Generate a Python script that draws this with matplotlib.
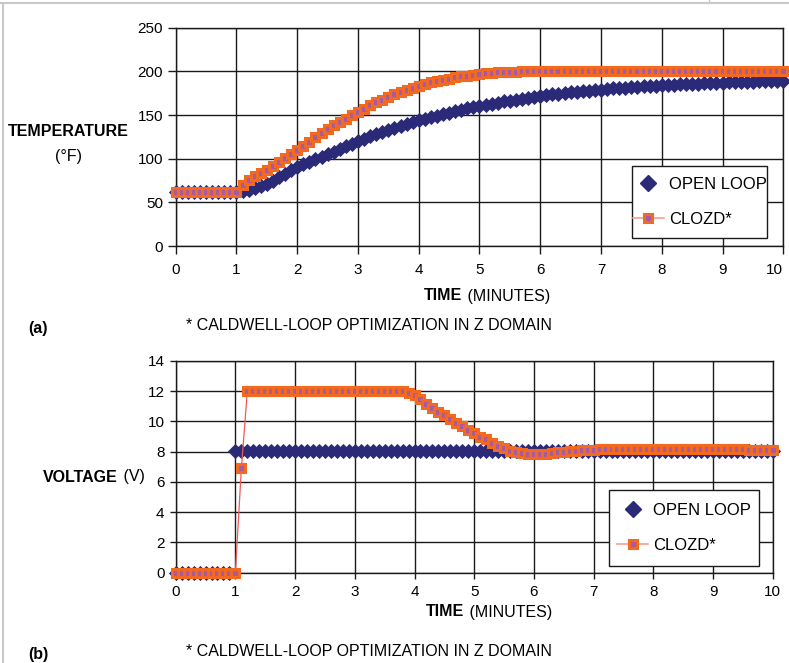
import matplotlib
matplotlib.use("Agg")
import matplotlib.pyplot as plt
from matplotlib.lines import Line2D
from matplotlib.patches import Rectangle

plt.rcParams['font.family'] = ['Liberation Sans', 'DejaVu Sans']

# ---------------- data ----------------
time_min = [
    0.0, 0.1, 0.2, 0.3, 0.4, 0.5, 0.6, 0.7, 0.8, 0.9,
    1.0, 1.1, 1.2, 1.3, 1.4, 1.5, 1.6, 1.7, 1.8, 1.9,
    2.0, 2.1, 2.2, 2.3, 2.4, 2.5, 2.6, 2.7, 2.8, 2.9,
    3.0, 3.1, 3.2, 3.3, 3.4, 3.5, 3.6, 3.7, 3.8, 3.9,
    4.0, 4.1, 4.2, 4.3, 4.4, 4.5, 4.6, 4.7, 4.8, 4.9,
    5.0, 5.1, 5.2, 5.3, 5.4, 5.5, 5.6, 5.7, 5.8, 5.9,
    6.0, 6.1, 6.2, 6.3, 6.4, 6.5, 6.6, 6.7, 6.8, 6.9,
    7.0, 7.1, 7.2, 7.3, 7.4, 7.5, 7.6, 7.7, 7.8, 7.9,
    8.0, 8.1, 8.2, 8.3, 8.4, 8.5, 8.6, 8.7, 8.8, 8.9,
    9.0, 9.1, 9.2, 9.3, 9.4, 9.5, 9.6, 9.7, 9.8, 9.9,
    10.0]

temp_open = [
    62, 62, 62, 62, 62, 62, 62, 62, 62, 62,
    62, 62.5, 64, 66, 68.5, 71.5, 75, 78.5, 82.5, 86.5,
    90.5, 93.5, 96.5, 99.5, 102.3, 105, 108, 111, 114, 117,
    120.5, 123, 125.5, 128, 130.5, 133, 135.3, 137.5, 139.7, 141.8,
    143.8, 145.7, 147.6, 149.4, 151.1, 152.8, 154.4, 156, 157.5, 159,
    160.4, 161.7, 163, 164.3, 165.5, 166.6, 167.7, 168.8, 169.8, 170.8,
    171.7, 172.6, 173.5, 174.3, 175.1, 175.9, 176.6, 177.3, 178, 178.6,
    179.2, 179.8, 180.4, 180.9, 181.4, 181.9, 182.4, 182.8, 183.2, 183.6,
    184, 184.4, 184.8, 185.1, 185.4, 185.7, 186, 186.3, 186.6, 186.9,
    187.2, 187.4, 187.6, 187.8, 188, 188.2, 188.4, 188.6, 188.8, 189,
    189.2]

temp_closed = [
    62, 62, 62, 62, 62, 62, 62, 62, 62, 62,
    62, 70, 76, 80, 83.5, 87.5, 91.5, 96, 100.5, 105,
    109.5, 114.5, 119.5, 124.5, 129, 133.5, 138, 142, 146, 149.5,
    153, 157, 161, 164.5, 167.5, 170.5, 173.5, 176.5, 179, 181.5,
    183.5, 185.5, 187.3, 189, 190.5, 191.8, 193, 194.2, 195.2, 196.1,
    196.9, 197.6, 198.2, 198.7, 199.1, 199.5, 199.8, 200, 200.1, 200.2,
    200.2, 200.2, 200.1, 200.1, 200, 200, 200, 200, 200, 200,
    200, 200, 200, 200, 200, 200, 200, 200, 200, 200,
    200, 200, 200, 200, 200, 200, 200, 200, 200, 200,
    200, 200, 200, 200, 200, 200, 200, 200, 200, 200,
    200]

volt_open = [
    0, 0, 0, 0, 0, 0, 0, 0, 0, 0,
    8.07, 8.07, 8.07, 8.07, 8.07, 8.07, 8.07, 8.07, 8.07, 8.07,
    8.07, 8.07, 8.07, 8.07, 8.07, 8.07, 8.07, 8.07, 8.07, 8.07,
    8.07, 8.07, 8.07, 8.07, 8.07, 8.07, 8.07, 8.07, 8.07, 8.07,
    8.07, 8.07, 8.07, 8.07, 8.07, 8.07, 8.07, 8.07, 8.07, 8.07,
    8.07, 8.07, 8.07, 8.07, 8.07, 8.07, 8.07, 8.07, 8.07, 8.07,
    8.07, 8.07, 8.07, 8.07, 8.07, 8.07, 8.07, 8.07, 8.07, 8.07,
    8.07, 8.07, 8.07, 8.07, 8.07, 8.07, 8.07, 8.07, 8.07, 8.07,
    8.07, 8.07, 8.07, 8.07, 8.07, 8.07, 8.07, 8.07, 8.07, 8.07,
    8.07, 8.07, 8.07, 8.07, 8.07, 8.07, 8.07, 8.07, 8.07, 8.07,
    8.07]

volt_closed = [
    0, 0, 0, 0, 0, 0, 0, 0, 0, 0,
    0, 6.9, 12, 12, 12, 12, 12, 12, 12, 12,
    12, 12, 12, 12, 12, 12, 12, 12, 12, 12,
    12, 12, 12, 12, 12, 12, 12, 12, 12, 11.9,
    11.72, 11.48, 11.15, 10.89, 10.66, 10.44, 10.18, 9.9, 9.67, 9.45,
    9.23, 9.0, 8.83, 8.57, 8.41, 8.24, 8.08, 7.97, 7.93, 7.86,
    7.84, 7.84, 7.88, 7.93, 7.97, 8.01, 8.05, 8.08, 8.1, 8.12,
    8.13, 8.15, 8.15, 8.15, 8.15, 8.15, 8.15, 8.15, 8.15, 8.15,
    8.18, 8.18, 8.18, 8.18, 8.18, 8.18, 8.18, 8.18, 8.18, 8.18,
    8.18, 8.18, 8.18, 8.17, 8.16, 8.15, 8.14, 8.14, 8.13, 8.13,
    8.12]

x_ticks = [0, 1, 2, 3, 4, 5, 6, 7, 8, 9, 10]
temp_ticks = [0, 50, 100, 150, 200, 250]
volt_ticks = [0, 2, 4, 6, 8, 10, 12, 14]
series_labels = ["OPEN LOOP", "CLOZD*"]
footnote = "* CALDWELL-LOOP OPTIMIZATION IN Z DOMAIN"

# ---------------- style ----------------
NAVY = '#2b2a78'
ORANGE = '#f26a22'
PURPLE = '#a65aa0'
LINE_RED = '#ee5a55'
GRID = '#1a1a1a'

W, H = 789, 663
fig = plt.figure(figsize=(W / 100, H / 100), dpi=100)


def fx(px):
    return px / W


def fy(py):
    return 1 - py / H


ax1 = fig.add_axes([fx(175.7), fy(246), fx(783.3) - fx(175.7), (246 - 27.7) / H])
ax2 = fig.add_axes([fx(175.7), fy(572.7), fx(772.7) - fx(175.7), (572.7 - 361) / H])


def style_axes(ax, yticks, tlen, xpad, ypad):
    ax.set_xlim(0, 10)
    ax.set_ylim(yticks[0], yticks[-1])
    ax.set_xticks(x_ticks)
    ax.set_yticks(yticks)
    ax.grid(True, color=GRID, linewidth=1.0, zorder=0)
    ax.set_axisbelow(True)
    for s in ax.spines.values():
        s.set_color(GRID)
        s.set_linewidth(1.0)
    ax.tick_params(direction='out', length=tlen, width=1, color=GRID,
                   labelsize=11)
    ax.tick_params(axis='x', pad=xpad)
    ax.tick_params(axis='y', pad=ypad)


def plot_series(ax, open_vals, closed_vals):
    ax.plot(time_min, open_vals, linestyle='none', marker='D', markersize=7.0,
            color=NAVY, markeredgecolor=NAVY, markeredgewidth=0.6,
            zorder=3, clip_on=False)
    ax.plot(time_min, closed_vals, linestyle='-', linewidth=0.9, color=LINE_RED,
            marker='s', markersize=5.3, markerfacecolor=PURPLE,
            markeredgecolor=ORANGE, markeredgewidth=2.2, zorder=4, clip_on=False)


def add_legend(ax, x0, y0, w, h):
    ax.add_patch(Rectangle((x0, y0), w, h, transform=ax.transAxes,
                           facecolor='white', edgecolor=GRID, linewidth=1.0,
                           zorder=5, clip_on=False))
    handles = [
        Line2D([], [], linestyle='none', marker='D', markersize=8.5, color=NAVY),
        Line2D([], [], linestyle='-', linewidth=1.2, color='#f5a08f', marker='s',
               markersize=6, markerfacecolor=PURPLE, markeredgecolor=ORANGE,
               markeredgewidth=2.2),
    ]
    leg = ax.legend(handles, series_labels, loc='center',
                    bbox_to_anchor=(x0, y0, w, h), bbox_transform=ax.transAxes,
                    frameon=False, fontsize=12,
                    handlelength=1.9, handletextpad=0.3, labelspacing=1.17,
                    borderpad=0.0, borderaxespad=0)
    leg.set_zorder(6)
    return leg


style_axes(ax1, temp_ticks, 6.0, 6.0, 3.0)
plot_series(ax1, temp_open, temp_closed)
add_legend(ax1, 0.7515, 0.0353, 0.9737 - 0.7515, 0.3678 - 0.0353)
# keep the last label of the upper chart inside the picture
ax1.get_xticklabels()[-1].set_horizontalalignment('right')
ax1.get_xticklabels()[-1].set_x(10.06)

style_axes(ax2, volt_ticks, 4.5, 4.0, 3.5)
plot_series(ax2, volt_open, volt_closed)
add_legend(ax2, 0.7263, 0.0316, 0.9765 - 0.7263, 0.3906 - 0.0316)

# ---------------- texts ----------------
TS = 11.5
fig.text(fx(68), fy(131), "TEMPERATURE", ha='center', va='center',
         fontsize=TS, fontweight='bold')
fig.text(fx(68), fy(156), "(°F)", ha='center', va='center', fontsize=TS)

fig.text(fx(462), fy(296), "TIME", ha='right', va='center', fontsize=TS,
         fontweight='bold')
fig.text(fx(463), fy(296), " (MINUTES)", ha='left', va='center', fontsize=TS)
fig.text(fx(28), fy(328), "(a)", ha='left', va='center', fontsize=TS,
         fontweight='bold')
fig.text(fx(186), fy(325), footnote, ha='left', va='center', fontsize=TS)

fig.text(fx(118), fy(477), "VOLTAGE", ha='right', va='center', fontsize=TS,
         fontweight='bold')
fig.text(fx(119), fy(477), " (V)", ha='left', va='center', fontsize=TS)
fig.text(fx(464), fy(612), "TIME", ha='right', va='center', fontsize=TS,
         fontweight='bold')
fig.text(fx(465), fy(612), " (MINUTES)", ha='left', va='center', fontsize=TS)
fig.text(fx(28), fy(655), "(b)", ha='left', va='center', fontsize=TS,
         fontweight='bold')
fig.text(fx(186), fy(652), footnote, ha='left', va='center', fontsize=TS)

# page border lines
fig.add_artist(Line2D([0, 1], [fy(3), fy(3)], transform=fig.transFigure,
                      color='#c8c8c8', linewidth=1.5))
fig.add_artist(Line2D([fx(3), fx(3)], [0, fy(3)], transform=fig.transFigure,
                      color='#c8c8c8', linewidth=1.5))
fig.add_artist(Line2D([fx(709), fx(709)], [fy(3), 1], transform=fig.transFigure,
                      color='#c8c8c8', linewidth=1.0))

fig.savefig("out.png", dpi=100)
